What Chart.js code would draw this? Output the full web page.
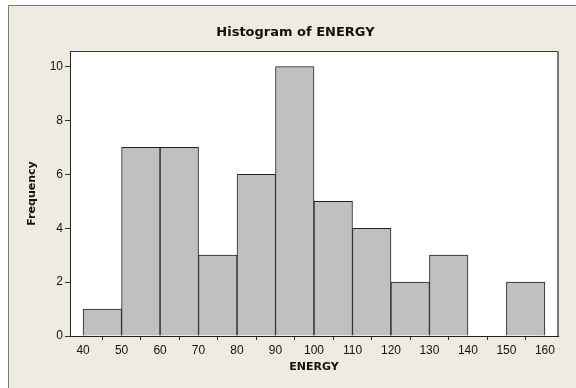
<!DOCTYPE html>
<html>
<head>
<meta charset="utf-8">
<script src="https://cdn.jsdelivr.net/npm/chart.js@4/dist/chart.umd.min.js"></script>
<style>
html,body{margin:0;padding:0;background:#ffffff;}
canvas{display:block;}
</style>
</head>
<body>
<canvas id="c" width="576" height="388"></canvas>
<script>
const binMids = [45, 55, 65, 75, 85, 95, 105, 115, 125, 135, 145, 155];
const frequencies = [1, 7, 7, 3, 6, 10, 5, 4, 2, 3, 0, 2];
const xTicks = [40, 50, 60, 70, 80, 90, 100, 110, 120, 130, 140, 150, 160];
const yTicks = [0, 2, 4, 6, 8, 10];
const chartTitle = 'Histogram of ENERGY';
const xTitle = 'ENERGY';
const yTitle = 'Frequency';

const bgPlugin = {
  id: 'bg',
  beforeDraw(chart) {
    const ctx = chart.ctx;
    const a = chart.chartArea;
    ctx.save();
    ctx.fillStyle = '#ffffff';
    ctx.fillRect(0, 0, chart.width, chart.height);
    ctx.fillStyle = '#efebe1';
    ctx.fillRect(8, 5, chart.width - 8, chart.height - 5);
    ctx.strokeStyle = '#7a7a7a';
    ctx.lineWidth = 1;
    ctx.beginPath();
    ctx.moveTo(8.5, chart.height);
    ctx.lineTo(8.5, 5.5);
    ctx.lineTo(chart.width, 5.5);
    ctx.stroke();
    ctx.fillStyle = '#ffffff';
    ctx.fillRect(a.left, a.top, a.right - a.left, a.bottom - a.top);
    ctx.restore();
  },
  beforeDatasetsDraw(chart) {
    const ctx = chart.ctx;
    const a = chart.chartArea;
    ctx.save();
    ctx.strokeStyle = '#333333';
    ctx.lineWidth = 1;
    ctx.beginPath();
    ctx.moveTo(a.left, a.top + 0.5);
    ctx.lineTo(a.right, a.top + 0.5);
    ctx.stroke();
    ctx.strokeStyle = '#777777';
    ctx.lineWidth = 2;
    ctx.beginPath();
    ctx.moveTo(a.right, a.top);
    ctx.lineTo(a.right, a.bottom);
    ctx.stroke();
    ctx.restore();
  }
};

Chart.defaults.font.family = 'DejaVu Sans';
Chart.defaults.color = '#111111';

new Chart(document.getElementById('c'), {
  type: 'bar',
  data: {
    datasets: [{
      data: binMids.map((x, i) => ({ x: x, y: frequencies[i] })),
      backgroundColor: '#c0c0c0',
      borderColor: '#222222',
      borderWidth: 1,
      barPercentage: 1,
      categoryPercentage: 1
    }]
  },
  options: {
    responsive: false,
    animation: false,
    devicePixelRatio: 1,
    layout: { padding: { left: 33, right: 18, top: 0, bottom: 0 } },
    plugins: {
      legend: { display: false },
      tooltip: { enabled: false },
      title: {
        display: true,
        text: chartTitle,
        color: '#111111',
        font: { size: 13, weight: 'bold' },
        padding: { top: 24.5, bottom: 10.9 }
      }
    },
    scales: {
      x: {
        type: 'linear',
        min: 36.6,
        max: 163.4,
        offset: false,
        afterBuildTicks(scale) { scale.ticks = xTicks.map(v => ({ value: v })); },
        afterFit(scale) { scale.height = 52; },
        grid: { display: true, drawOnChartArea: false, drawTicks: true, tickLength: 4, color: '#333333' },
        border: { display: true, color: '#222222', width: 1 },
        ticks: { font: { family: 'Liberation Sans', size: 12 }, padding: 3, maxRotation: 0, autoSkip: false, color: '#111111' },
        title: { display: true, text: xTitle, font: { size: 11, weight: 'bold' }, color: '#111111', padding: { top: 0, bottom: 14.5 } }
      },
      y: {
        type: 'linear',
        min: 0,
        max: 10.58,
        afterBuildTicks(scale) { scale.ticks = yTicks.map(v => ({ value: v })); },
        afterFit(scale) { scale.width = 37; },
        grid: { display: true, drawOnChartArea: false, drawTicks: true, tickLength: 5, color: '#333333' },
        border: { display: true, color: '#222222', width: 1 },
        ticks: { font: { family: 'Liberation Sans', size: 12 }, padding: 2, color: '#111111' },
        title: { display: true, text: yTitle, font: { size: 11, weight: 'bold' }, color: '#111111', padding: { top: -7.6, bottom: 0 } }
      }
    }
  },
  plugins: [bgPlugin]
});
</script>
</body>
</html>
